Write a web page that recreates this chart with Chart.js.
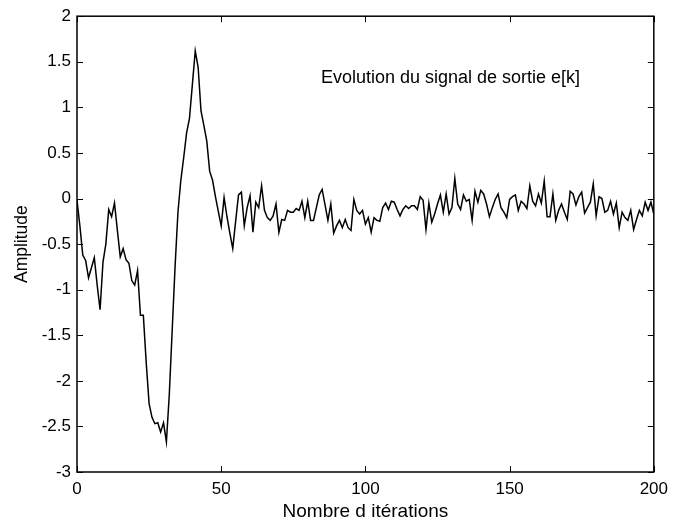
<!DOCTYPE html>
<html>
<head>
<meta charset="utf-8">
<script src="https://cdn.jsdelivr.net/npm/chart.js@4.4.1/dist/chart.umd.min.js"></script>
<style>
  html, body { margin: 0; padding: 0; background: #fff; }
  #wrap { width: 675px; height: 528px; }
</style>
</head>
<body>
<div id="wrap"><canvas id="sigChart" width="675" height="528"></canvas></div>
<script>
// --- données ---
const iterations = Array.from({ length: 201 }, (_, k) => k); // k = 0..200
const signalE = [
  -0.02, -0.30, -0.62, -0.68, -0.87, -0.76, -0.65, -0.95, -1.22, -0.70,
  -0.50, -0.12, -0.20, -0.05, -0.35, -0.64, -0.55, -0.67, -0.71, -0.90,
  -0.95, -0.79, -1.28, -1.28, -1.80, -2.25, -2.40, -2.47, -2.46, -2.56,
  -2.46, -2.67, -2.15, -1.45, -0.75, -0.15, 0.20, 0.45, 0.72, 0.88,
  1.25, 1.62, 1.44, 0.96, 0.80, 0.63, 0.30, 0.20, 0.02, -0.14,
  -0.30, 0.01, -0.20, -0.38, -0.55, -0.25, 0.04, 0.07, -0.30, -0.10,
  0.03, -0.37, -0.04, -0.10, 0.14, -0.13, -0.21, -0.24, -0.19, -0.06,
  -0.37, -0.23, -0.24, -0.13, -0.15, -0.15, -0.11, -0.13, -0.03, -0.21,
  -0.03, -0.24, -0.24, -0.10, 0.04, 0.10, -0.07, -0.24, -0.06, -0.38,
  -0.30, -0.24, -0.32, -0.23, -0.32, -0.35, -0.01, -0.13, -0.17, -0.13,
  -0.28, -0.21, -0.37, -0.21, -0.24, -0.25, -0.10, -0.05, -0.12, -0.03,
  -0.04, -0.12, -0.19, -0.12, -0.08, -0.11, -0.08, -0.08, -0.12, 0.02,
  -0.02, -0.34, -0.05, -0.26, -0.17, -0.06, 0.04, -0.15, 0.05, -0.17,
  -0.10, 0.22, -0.06, -0.12, 0.04, -0.03, -0.01, -0.24, 0.08, -0.04,
  0.09, 0.05, -0.06, -0.20, -0.10, -0.01, 0.05, -0.10, -0.15, -0.21,
  -0.01, 0.02, 0.04, -0.13, -0.03, -0.06, -0.11, 0.14, -0.03, -0.08,
  0.05, -0.05, 0.19, -0.20, -0.20, 0.05, -0.24, -0.13, -0.06, -0.15,
  -0.23, 0.08, 0.05, -0.07, 0.02, 0.07, -0.16, -0.10, -0.04, 0.16,
  -0.19, 0.02, 0.00, -0.15, -0.13, -0.03, -0.17, -0.05, -0.32, -0.15,
  -0.21, -0.24, -0.13, -0.34, -0.23, -0.13, -0.19, -0.04, -0.13, -0.04,
  -0.17
];
const xTicks = [0, 50, 100, 150, 200];
const yTicks = [2, 1.5, 1, 0.5, 0, -0.5, -1, -1.5, -2, -2.5, -3];
const legendText = 'Evolution du signal de sortie e[k]';
const xTitle = 'Nombre d itérations';
const yTitle = 'Amplitude';

const FONT = '"Liberation Sans", Arial, Helvetica, sans-serif';

// cadre + graduations vers l'intérieur (style MATLAB) et texte dans le tracé
const boxPlugin = {
  id: 'boxPlugin',
  afterDraw(chart) {
    const { ctx, chartArea: a, scales: { x, y } } = chart;
    const tl = 6;
    ctx.save();
    ctx.strokeStyle = '#000';
    ctx.lineWidth = 1.5;
    ctx.strokeRect(a.left, a.top, a.right - a.left, a.bottom - a.top);
    ctx.lineWidth = 1;
    ctx.beginPath();
    xTicks.forEach(v => {
      const px = Math.round(x.getPixelForValue(v)) + 0.5;
      ctx.moveTo(px, a.bottom); ctx.lineTo(px, a.bottom - tl);
      ctx.moveTo(px, a.top); ctx.lineTo(px, a.top + tl);
    });
    yTicks.forEach(v => {
      const py = Math.round(y.getPixelForValue(v)) + 0.5;
      ctx.moveTo(a.left, py); ctx.lineTo(a.left + tl, py);
      ctx.moveTo(a.right, py); ctx.lineTo(a.right - tl, py);
    });
    ctx.stroke();
    // texte "Evolution du signal..."
    ctx.fillStyle = '#000';
    ctx.font = '18px ' + FONT;
    ctx.textAlign = 'center';
    ctx.textBaseline = 'middle';
    ctx.fillText(legendText, x.getPixelForValue(129.5), y.getPixelForValue(1.32));
    ctx.restore();
  }
};

new Chart(document.getElementById('sigChart'), {
  type: 'line',
  data: {
    labels: iterations,
    datasets: [{
      data: signalE,
      borderColor: '#000',
      borderWidth: 1.5,
      pointRadius: 0,
      tension: 0,
      fill: false
    }]
  },
  options: {
    responsive: false,
    devicePixelRatio: 1,
    animation: false,
    layout: { padding: { left: 0, top: 15, right: 18, bottom: 0 } },
    plugins: { legend: { display: false }, tooltip: { enabled: false } },
    scales: {
      x: {
        type: 'linear',
        min: 0, max: 200,
        afterBuildTicks: s => { s.ticks = xTicks.map(v => ({ value: v })); },
        afterFit: s => { s.height = 56; },
        grid: { display: false, drawTicks: false },
        border: { display: false },
        ticks: { color: '#000', font: { family: FONT, size: 17 }, padding: 7, maxRotation: 0 },
        title: { display: true, text: xTitle, color: '#000', font: { family: FONT, size: 19 }, padding: { top: 0, bottom: 5 } }
      },
      y: {
        min: -3, max: 2,
        afterBuildTicks: s => { s.ticks = yTicks.map(v => ({ value: v })); },
        afterFit: s => { s.width = 77; },
        grid: { display: false, drawTicks: false },
        border: { display: false },
        ticks: {
          color: '#000', font: { family: FONT, size: 17 }, padding: 6,
          callback: v => String(+v.toFixed(1))
        },
        title: { display: true, text: yTitle, color: '#000', font: { family: FONT, size: 17.5 }, padding: { top: 12, bottom: 0 } }
      }
    }
  },
  plugins: [boxPlugin]
});
</script>
</body>
</html>
